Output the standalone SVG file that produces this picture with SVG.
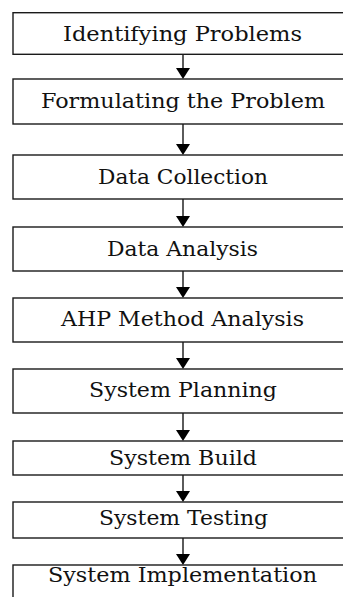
<svg xmlns="http://www.w3.org/2000/svg" width="343" height="597" viewBox="0 0 343 597">
  <style>
    .box { fill: #ffffff; stroke: #1a1a1a; stroke-width: 1.4; }
    .lbl { font-family: "DejaVu Serif", "Liberation Serif", serif; font-size: 21px; fill: #111111; }
    .link { stroke: #333333; stroke-width: 1.6; fill: none; }
    .head { fill: #000000; }
  </style>
  <rect width="343" height="597" fill="#ffffff"/>

  <!-- connectors: shaft from box bottom, head tip touching next box -->
  <g id="connectors">
    <line class="link" x1="183" y1="54" x2="183" y2="68"/>
    <polygon class="head" points="176,68 190,68 183,79"/>
    <line class="link" x1="183" y1="124" x2="183" y2="144"/>
    <polygon class="head" points="176,144 190,144 183,155"/>
    <line class="link" x1="183" y1="199" x2="183" y2="216"/>
    <polygon class="head" points="176,216 190,216 183,227"/>
    <line class="link" x1="183" y1="271" x2="183" y2="287"/>
    <polygon class="head" points="176,287 190,287 183,298"/>
    <line class="link" x1="183" y1="342" x2="183" y2="358"/>
    <polygon class="head" points="176,358 190,358 183,369"/>
    <line class="link" x1="183" y1="413" x2="183" y2="430"/>
    <polygon class="head" points="176,430 190,430 183,441"/>
    <line class="link" x1="183" y1="475" x2="183" y2="491"/>
    <polygon class="head" points="176,491 190,491 183,502"/>
    <line class="link" x1="183" y1="538" x2="183" y2="554"/>
    <polygon class="head" points="176,554 190,554 183,565"/>
  </g>

  <g id="identifying-problems">
    <rect class="box" x="13" y="12.7" width="340" height="41.6"/>
    <text class="lbl" x="63" y="41" textLength="239" lengthAdjust="spacingAndGlyphs">Identifying Problems</text>
  </g>
  <g id="formulating-problem">
    <rect class="box" x="13" y="79" width="340" height="45"/>
    <text class="lbl" x="41" y="108" textLength="284" lengthAdjust="spacingAndGlyphs">Formulating the Problem</text>
  </g>
  <g id="data-collection">
    <rect class="box" x="13" y="155" width="340" height="44"/>
    <text class="lbl" x="98" y="184" textLength="170" lengthAdjust="spacingAndGlyphs">Data Collection</text>
  </g>
  <g id="data-analysis">
    <rect class="box" x="13" y="227" width="340" height="44"/>
    <text class="lbl" x="107" y="256" textLength="151" lengthAdjust="spacingAndGlyphs">Data Analysis</text>
  </g>
  <g id="ahp-analysis">
    <rect class="box" x="13" y="298" width="340" height="44"/>
    <text class="lbl" x="61" y="326" textLength="243" lengthAdjust="spacingAndGlyphs">AHP Method Analysis</text>
  </g>
  <g id="system-planning">
    <rect class="box" x="13" y="369" width="340" height="44"/>
    <text class="lbl" x="89" y="397" textLength="188" lengthAdjust="spacingAndGlyphs">System Planning</text>
  </g>
  <g id="system-build">
    <rect class="box" x="13" y="441" width="340" height="34"/>
    <text class="lbl" x="109" y="465" textLength="148" lengthAdjust="spacingAndGlyphs">System Build</text>
  </g>
  <g id="system-testing">
    <rect class="box" x="13" y="502" width="340" height="36"/>
    <text class="lbl" x="99" y="525" textLength="169" lengthAdjust="spacingAndGlyphs">System Testing</text>
  </g>
  <g id="system-implementation">
    <rect class="box" x="13" y="565" width="340" height="45"/>
    <text class="lbl" x="48" y="582" textLength="269" lengthAdjust="spacingAndGlyphs">System Implementation</text>
  </g>
</svg>
